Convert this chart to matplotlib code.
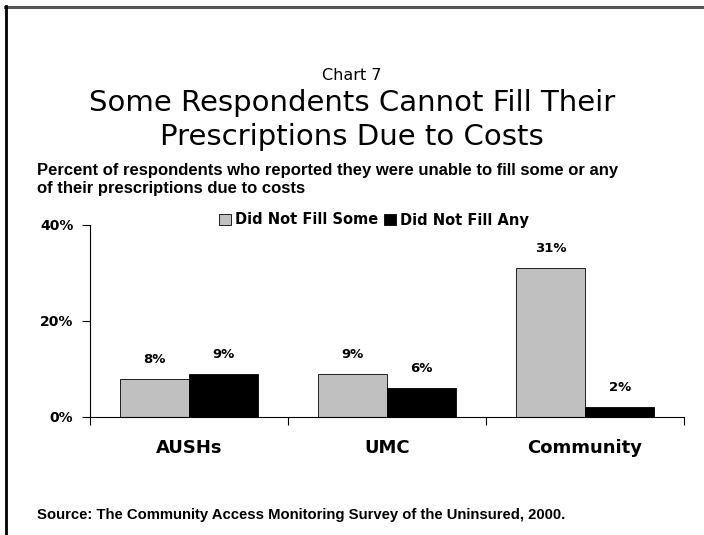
import numpy as np
import matplotlib
matplotlib.use("Agg")
import matplotlib.pyplot as plt
from matplotlib.lines import Line2D
from matplotlib.patches import Patch

categories = ["AUSHs", "UMC", "Community"]
fill_some = [8, 9, 31]
fill_any = [9, 6, 2]
series_names = ["Did Not Fill Some", "Did Not Fill Any"]
y_ticks = [0, 20, 40]

W, H = 704, 535
fig = plt.figure(figsize=(W / 100, H / 100), dpi=100)

# page frame: rule along top and left edge
fig.add_artist(Line2D([5 / W, 1], [1 - 7 / H, 1 - 7 / H], color="#555555", lw=2.2))
fig.add_artist(Line2D([6 / W, 6 / W], [0, 1 - 6 / H], color="black", lw=2.0))

narrow = ["Liberation Sans Narrow", "Liberation Sans"]

fig.text(352 / W, 1 - 76 / H, "Chart 7", ha="center", va="center",
         fontsize=11.5, family="DejaVu Sans")
fig.text(352 / W, 1 - 103 / H, "Some Respondents Cannot Fill Their",
         ha="center", va="center", fontsize=21, family="DejaVu Sans")
fig.text(352 / W, 1 - 137 / H, "Prescriptions Due to Costs",
         ha="center", va="center", fontsize=21, family="DejaVu Sans")
fig.text(37 / W, 1 - 170 / H,
         "Percent of respondents who reported they were unable to fill some or any",
         ha="left", va="center", fontsize=12, weight="bold", family=narrow)
fig.text(37 / W, 1 - 189 / H, "of their prescriptions due to costs",
         ha="left", va="center", fontsize=12, weight="bold", family=narrow)
fig.text(37 / W, 1 - 515 / H,
         "Source: The Community Access Monitoring Survey of the Uninsured, 2000.",
         ha="left", va="center", fontsize=10.7, weight="bold", family=narrow)

ax = fig.add_axes([90 / W, 1 - 417 / H, 594 / W, 192 / H])
x = np.arange(len(categories))
bw = 0.35
b1 = ax.bar(x - bw / 2, fill_some, bw, color="#C0C0C0", edgecolor="black", lw=0.6)
b2 = ax.bar(x + bw / 2, fill_any, bw, color="black", edgecolor="black", lw=0.6)

for bars, vals in [(b1, fill_some), (b2, fill_any)]:
    for rect, v in zip(bars, vals):
        ax.annotate(f"{v}%", (rect.get_x() + rect.get_width() / 2, v),
                    xytext=(0, 14), textcoords="offset points",
                    ha="center", va="center", fontsize=9.5, weight="bold",
                    family="DejaVu Sans")

ax.set_xlim(-0.5, len(categories) - 0.5)
ax.set_ylim(0, 40)
ax.spines["top"].set_visible(False)
ax.spines["right"].set_visible(False)
for s in ["left", "bottom"]:
    ax.spines[s].set_linewidth(0.8)

ax.set_yticks(y_ticks)
ax.set_yticklabels([f"{t}%" for t in y_ticks], fontsize=10, weight="bold",
                   family="DejaVu Sans")
ax.tick_params(axis="y", direction="out", length=6, width=0.8, pad=6)

ax.set_xticks(np.arange(len(categories) + 1) - 0.5)
ax.set_xticklabels([])
ax.tick_params(axis="x", which="major", direction="out", length=6, width=0.8)
ax.set_xticks(x, minor=True)
ax.set_xticklabels(categories, minor=True, fontsize=13, weight="bold",
                   family="DejaVu Sans")
ax.tick_params(axis="x", which="minor", length=0, pad=16)

handles = [Patch(facecolor="#C0C0C0", edgecolor="black", lw=0.6),
           Patch(facecolor="black", edgecolor="black", lw=0.6)]
fig.legend(handles, series_names, loc="center", ncol=2,
           bbox_to_anchor=(374 / W, 1 - 220 / H), frameon=False,
           handlelength=0.8, handleheight=0.8, handletextpad=0.3,
           columnspacing=0.4, prop={"family": "DejaVu Sans", "weight": "bold", "size": 10.5})

fig.savefig("out.png", dpi=100)
